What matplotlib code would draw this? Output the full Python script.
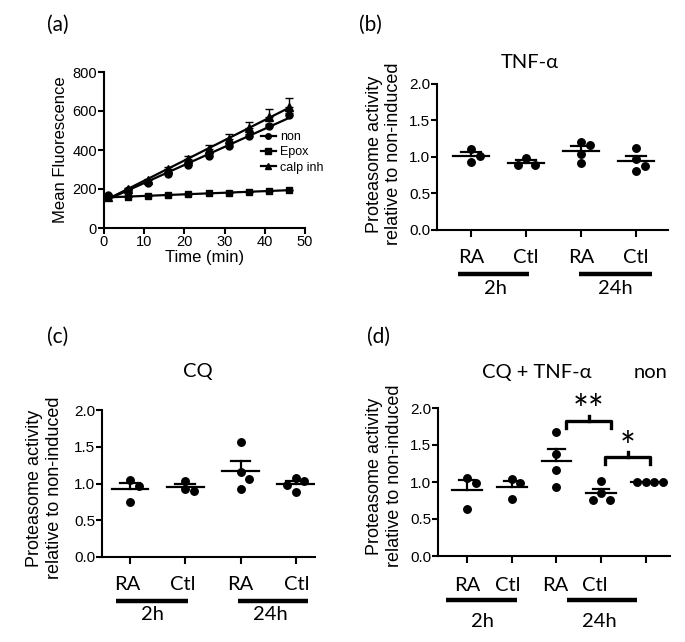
"""Proteasome activity figure: kinetics (a) plus three scatter panels (b-d)."""
import numpy as np
import matplotlib
matplotlib.use("Agg")
import matplotlib.pyplot as plt
from matplotlib.transforms import blended_transform_factory

ARIAL = "Liberation Sans"
CALIBRI = ["Lato", "Open Sans", "DejaVu Sans"]
plt.rcParams["font.family"] = [ARIAL, "DejaVu Sans"]

W, H = 685, 642

# --- (a) fluorescence kinetics ---
time_min = [1, 6, 11, 16, 21, 26, 31, 36, 41, 46]
non_fluor = [170, 196, 232, 275, 321, 371, 420, 472, 523, 578]
non_err = [3, 4, 5, 6, 7, 8, 9, 10, 11, 12]
epox_fluor = [158, 160, 165, 170, 173, 178, 182, 185, 190, 194]
epox_err = [2, 2, 2, 2, 2, 2, 2, 2, 2, 2]
calp_fluor = [160, 200, 245, 305, 355, 405, 455, 511, 568, 622]
calp_err = [5, 5, 8, 10, 14, 21, 29, 34, 40, 47]

# --- (b) TNF-alpha ---
tnf_ra_2h = [1.11, 1.02, 0.93]
tnf_ctl_2h = [0.99, 0.89, 0.89]
tnf_ra_24h = [1.20, 1.17, 1.04, 0.92]
tnf_ctl_24h = [1.12, 0.97, 0.87, 0.81]

# --- (c) CQ ---
cq_ra_2h = [1.05, 0.96, 0.75]
cq_ctl_2h = [1.04, 0.93, 0.90]
cq_ra_24h = [1.56, 1.15, 1.06, 0.93]
cq_ctl_24h = [1.07, 1.03, 0.98, 0.88]

# --- (d) CQ + TNF-alpha ---
cqtnf_ra_2h = [1.06, 0.98, 0.64]
cqtnf_ctl_2h = [1.04, 0.98, 0.77]
cqtnf_ra_24h = [1.68, 1.38, 1.16, 0.93]
cqtnf_ctl_24h = [1.02, 0.85, 0.76, 0.76]
cqtnf_non = [1.0, 1.0, 1.0, 1.0]

ylabel_txt = "Proteasome activity\nrelative to non-induced"


def px_rect(l, t, r, b):
    return [l / W, 1 - b / H, (r - l) / W, (b - t) / H]


def style_axes(ax):
    for s in ("top", "right"):
        ax.spines[s].set_visible(False)
    for s in ("left", "bottom"):
        ax.spines[s].set_linewidth(1.5)
    ax.tick_params(direction="out", length=4, width=1.5, pad=1,
                   labelsize=11)


def swarm(vals, px_x, px_y, step=8.5, dmin=7.5):
    """simple beeswarm: shift points sideways until they don't overlap"""
    placed, offs = [], []
    cands = [0.0]
    for i in range(1, 6):
        cands += [i * step, -i * step]
    for v in vals:
        y = v * px_y
        for c in cands:
            if all(np.hypot(c - px, y - py) >= dmin for px, py in placed):
                break
        placed.append((c, y))
        offs.append(c / px_x)
    return offs


def scatter_panel(ax, groups, xlim, title_pos, cat_labels, bars, times,
                  ylab_pos):
    style_axes(ax)
    ax.set_xlim(*xlim)
    ax.set_ylim(0, 2.0)
    ax.set_yticks([0, 0.5, 1.0, 1.5, 2.0])
    ax.set_yticklabels([f"{v:.1f}" for v in [0, 0.5, 1.0, 1.5, 2.0]])
    ax.set_xticks(range(len(groups)))
    ax.set_xticklabels([])
    ax.tick_params(axis="x", length=5)
    pos = ax.get_position()
    px_x = pos.width * W / (xlim[1] - xlim[0])
    px_y = pos.height * H / 2.0
    for i, vals in enumerate(groups):
        offs = swarm(vals, px_x, px_y)
        ax.plot(np.array(offs) + i, vals, "o", color="k", ms=5.4,
                clip_on=False, zorder=3)
        m = np.mean(vals)
        sem = np.std(vals, ddof=1) / np.sqrt(len(vals))
        ax.plot([i - 0.33, i + 0.33], [m, m], color="k", lw=1.6, zorder=2)
        if sem > 0:
            ax.plot([i, i], [m, m + sem], color="k", lw=1.6, zorder=2)
            ax.plot([i - 0.18, i + 0.18], [m + sem, m + sem], color="k",
                    lw=1.6, zorder=2)
    tr = blended_transform_factory(ax.transData, ax.transAxes)
    for txt, x, y in title_pos:
        ax.text(x, y, txt, transform=tr, ha="center", va="center",
                fontsize=14.5, family=CALIBRI)
    for txt, x in cat_labels[0]:
        ax.text(x, cat_labels[1], txt, transform=tr, ha="center",
                va="center", fontsize=14.5, family=CALIBRI)
    for x0, x1 in bars[0]:
        ax.plot([x0, x1], [bars[1], bars[1]], color="k", lw=3.2,
                transform=tr, clip_on=False, solid_capstyle="butt")
    for txt, x in times[0]:
        ax.text(x, times[1], txt, transform=tr, ha="center", va="center",
                fontsize=14.5, family=CALIBRI)
    ax.text(ylab_pos[0], ylab_pos[1], ylabel_txt, transform=ax.transAxes,
            rotation=90, ha="center", va="center", fontsize=13,
            linespacing=1.2, multialignment="center")


def bracket(ax, i, j, y, label, star_y, dx0=0.2, dx1=0.15):
    x0, x1 = i + dx0, j + dx1
    drop, tip = 0.09, 0.07
    ax.plot([x0, x0, x1, x1], [y - drop, y, y, y - drop], color="k", lw=2.4,
            solid_joinstyle="round", clip_on=False)
    xm = (x0 + x1) / 2
    ax.plot([xm, xm], [y, y + tip], color="k", lw=2.4, clip_on=False)
    fs = 27
    ax.annotate(label, (xm, star_y), xytext=(0, -0.62 * fs),
                textcoords="offset points", ha="center", va="baseline",
                fontsize=fs, family=CALIBRI, annotation_clip=False)


fig = plt.figure(figsize=(W / 100, H / 100), dpi=100)

# ---------------- (a) ----------------
axA = fig.add_axes(px_rect(104, 72, 305, 228))
style_axes(axA)
axA.tick_params(labelsize=10.5)
t = np.array(time_min)
series = [("non", non_fluor, non_err, "o", 5.0),
          ("Epox", epox_fluor, epox_err, "s", 5.0),
          ("calp inh", calp_fluor, calp_err, "^", 5.5)]
for name, y, e, mk, ms in series:
    y = np.array(y)
    axA.errorbar(t, y, yerr=[np.zeros_like(e), e], fmt="none", ecolor="k",
                 elinewidth=1, capsize=3, capthick=1)
    k, b0 = np.polyfit(t, y, 1)
    axA.plot(t[[0, -1]], k * t[[0, -1]] + b0, color="k", lw=1.6)
    axA.plot(t, y, mk, color="k", ms=ms, clip_on=False)
    axA.plot([], [], marker=mk, color="k", lw=1.6, ms=ms - 1, label=name)
axA.set_xlim(0, 50)
axA.set_ylim(0, 800)
axA.set_xticks(range(0, 51, 10))
axA.set_yticks(range(0, 801, 200))
axA.set_xlabel("Time (min)", fontsize=12, labelpad=1)
axA.set_ylabel("Mean Fluorescence", fontsize=12, labelpad=3)
axA.legend(loc="upper left", bbox_to_anchor=(0.78, 0.62), frameon=False,
           fontsize=9, handlelength=1.2, handletextpad=0.35,
           labelspacing=0.25, borderpad=0, borderaxespad=0)

# ---------------- (b) ----------------
axB = fig.add_axes(px_rect(437, 84, 668, 230))
scatter_panel(axB, [tnf_ra_2h, tnf_ctl_2h, tnf_ra_24h, tnf_ctl_24h],
              (-0.62, 3.58), [("TNF-α", 1.07, 1.15)],
              ([("RA", 0), ("Ctl", 1), ("RA", 2), ("Ctl", 3)], -0.19),
              ([(-0.24, 1.05), (1.96, 3.29)], -0.30),
              ([("2h", 0.44), ("24h", 2.62)], -0.40),
              (-0.23, 0.52))

# ---------------- (c) ----------------
axC = fig.add_axes(px_rect(102, 410, 315, 557))
scatter_panel(axC, [cq_ra_2h, cq_ctl_2h, cq_ra_24h, cq_ctl_24h],
              (-0.51, 3.35), [("CQ", 1.22, 1.26)],
              ([("RA", -0.05), ("Ctl", 0.96), ("RA", 2.0), ("Ctl", 3.02)],
               -0.19),
              ([(-0.25, 1.04), (1.95, 3.22)], -0.30),
              ([("2h", 0.4), ("24h", 2.55)], -0.39),
              (-0.27, 0.47))

# ---------------- (d) ----------------
axD = fig.add_axes(px_rect(438, 408, 670, 556))
scatter_panel(axD, [cqtnf_ra_2h, cqtnf_ctl_2h, cqtnf_ra_24h, cqtnf_ctl_24h,
                    cqtnf_non],
              (-0.65, 4.54),
              [("CQ + TNF-α", 1.56, 1.237), ("non", 4.1, 1.237)],
              ([("RA", 0), ("Ctl", 0.92), ("RA", 1.98), ("Ctl", 2.86)],
               -0.196),
              ([(-0.46, 1.12), (2.23, 3.8)], -0.298),
              ([("2h", 0.35), ("24h", 2.95)], -0.445),
              (-0.23, 0.54))
bracket(axD, 2, 3, 1.82, "**", 2.11, dx0=0.22, dx1=0.22)
bracket(axD, 3, 4, 1.336, "*", 1.615, dx0=0.08, dx1=0.1)

# panel letters
for txt, x, y in [("(a)", 58, 25), ("(b)", 370, 25), ("(c)", 58, 337),
                  ("(d)", 378, 337)]:
    fig.text(x / W, 1 - y / H, txt, ha="center", va="center", fontsize=15,
             family=CALIBRI)

fig.savefig("out.png", dpi=100)
plt.close(fig)
